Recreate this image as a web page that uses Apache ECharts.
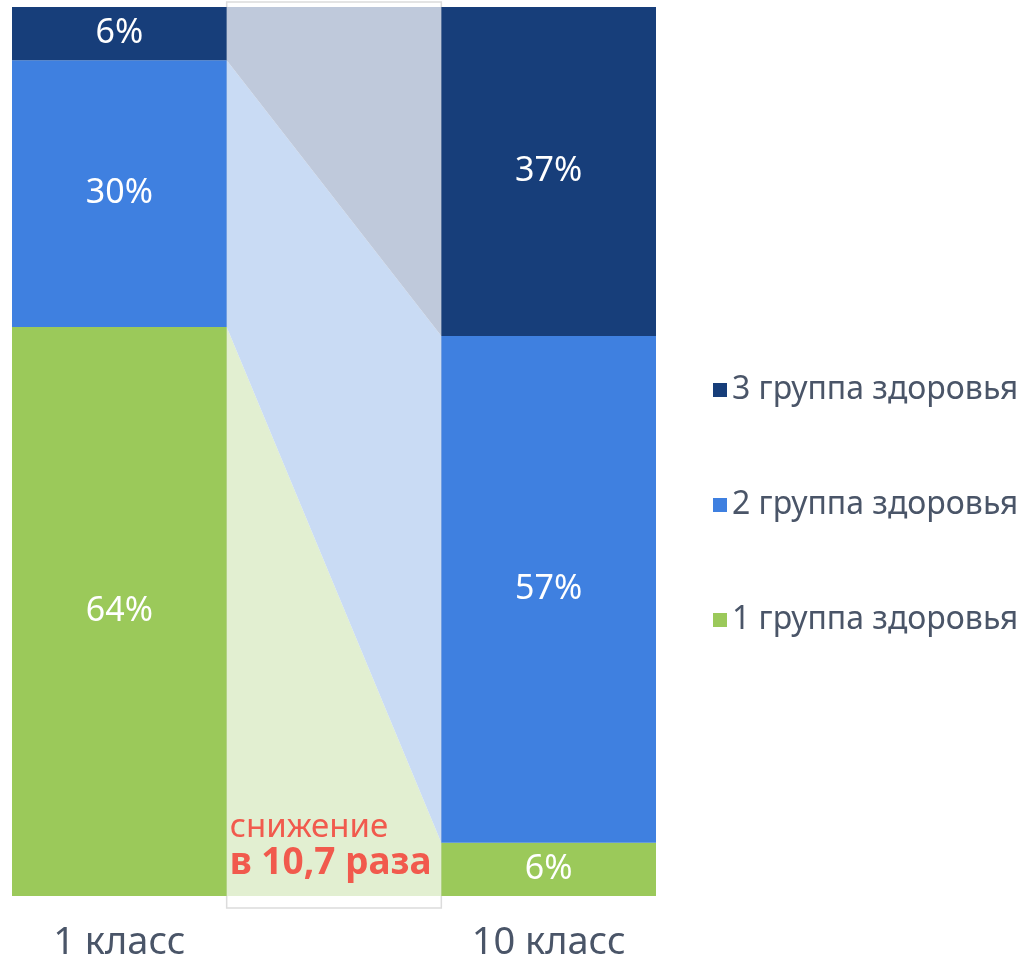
<!DOCTYPE html>
<html>
<head>
<meta charset="utf-8">
<script src="https://cdn.jsdelivr.net/npm/echarts@6/dist/echarts.min.js"></script>
<style>
  html, body { margin: 0; padding: 0; background: #fff; }
  #chart { width: 1026px; height: 962px; }
</style>
</head>
<body>
<div id="chart"></div>
<script>
// categories: middle empty slot holds the connector band
var categories = ['1 класс', '', '10 класс'];
var seriesNames = ['1 группа здоровья', '2 группа здоровья', '3 группа здоровья'];
var group1 = [64, '-', 6];
var group2 = [30, '-', 57];
var group3 = [6, '-', 37];
var note = ['снижение', 'в 10,7 раза'];

var colors = ['#9bc95a', '#3f80e0', '#173e7a'];
var lightColors = ['#e2efd1', '#c9dbf4', '#bfc9db'];
var textColor = '#4a5568';
var font = 'Noto Sans';

var chart = echarts.init(document.getElementById('chart'));

function barSeries(name, data, color) {
  return {
    name: name,
    type: 'bar',
    stack: 'total',
    data: data,
    barWidth: '100%',
    itemStyle: { color: color },
    label: {
      show: true,
      position: 'inside',
      color: '#fff',
      fontFamily: font,
      fontSize: 34,
      formatter: '{c}%'
    },
    animation: false
  };
}

// connector band between two bars
function renderBand(params, api) {
  var groups = [group1, group2, group3];
  var half = api.size([1, 0])[0] / 2;
  var cx = api.coord([1, 0])[0];
  var xL = cx - half, xR = cx + half;
  var yTop = api.coord([1, 100])[1];
  var yBot = api.coord([1, 0])[1];
  var children = [{
    type: 'rect',
    shape: { x: xL, y: yTop - 5, width: xR - xL, height: yBot - yTop + 17 },
    style: { fill: '#ffffff', stroke: '#dcdcdc', lineWidth: 1.5 }
  }];
  var cumL = 0, cumR = 0;
  for (var i = 0; i < groups.length; i++) {
    var l0 = cumL, r0 = cumR;
    cumL += groups[i][0];
    cumR += groups[i][2];
    children.push({
      type: 'polygon',
      shape: { points: [
        [xL, api.coord([1, l0])[1]],
        [xR, api.coord([1, r0])[1]],
        [xR, api.coord([1, cumR])[1]],
        [xL, api.coord([1, cumL])[1]]
      ] },
      style: { fill: lightColors[i] }
    });
  }
  children.push({
    type: 'text',
    style: { x: xL + 3, y: yBot - 52, text: note[0], fill: '#f15a4d',
      font: 'normal 33px "' + font + '"', textVerticalAlign: 'bottom' }
  });
  children.push({
    type: 'text',
    style: { x: xL + 3, y: yBot - 14, text: note[1], fill: '#f15a4d',
      font: 'bold 37px "' + font + '"', textVerticalAlign: 'bottom' }
  });
  return { type: 'group', children: children };
}

chart.setOption({
  animation: false,
  grid: { left: 12, width: 644, top: 7, bottom: 65 },
  legend: {
    orient: 'vertical',
    left: 708,
    top: 367,
    itemWidth: 14,
    itemHeight: 14,
    itemGap: 79,
    icon: 'rect',
    data: [seriesNames[2], seriesNames[1], seriesNames[0]],
    textStyle: { color: textColor, fontFamily: font, fontSize: 32, lineHeight: 36 }
  },
  xAxis: {
    type: 'category',
    data: categories,
    axisLine: { show: false },
    axisTick: { show: false },
    axisLabel: { color: textColor, fontFamily: font, fontSize: 38, margin: 28 }
  },
  yAxis: {
    type: 'value',
    min: 0,
    max: 100,
    show: false
  },
  series: [
    barSeries(seriesNames[0], group1, colors[0]),
    barSeries(seriesNames[1], group2, colors[1]),
    barSeries(seriesNames[2], group3, colors[2]),
    {
      type: 'custom',
      renderItem: renderBand,
      data: [[1]],
      silent: true,
      z: 1
    }
  ]
});
</script>
</body>
</html>
